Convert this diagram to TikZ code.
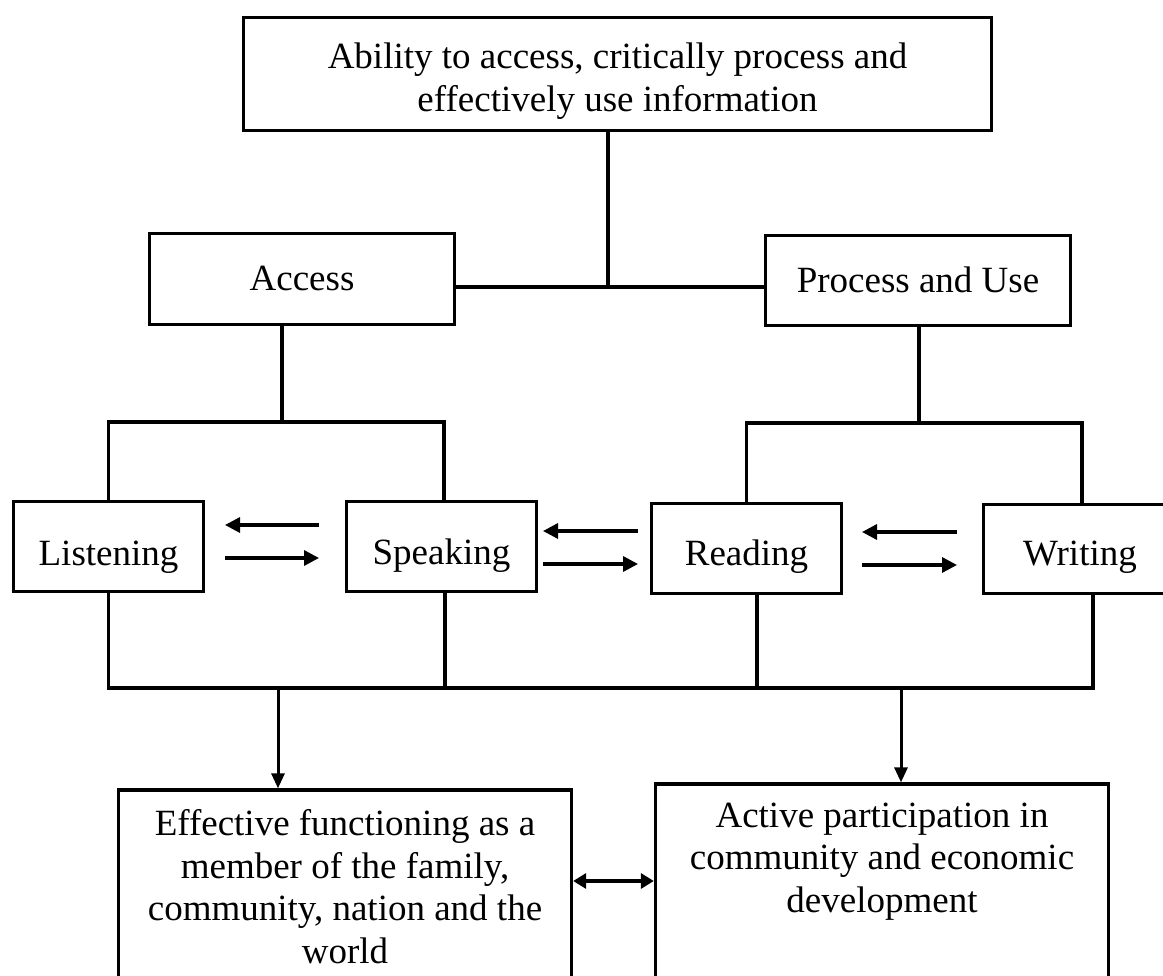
\documentclass[tikz,border=0pt]{standalone}
\usepackage{fontspec}
\setmainfont{Liberation Serif}
\usetikzlibrary{arrows.meta}
\begin{document}
\begin{tikzpicture}[x=1pt,y=-1pt,
  box/.style={draw, line width=3.3pt, inner sep=0pt},
  lbl/.style={inner sep=0pt, font=\fontsize{37}{42.5}\selectfont},
  conn/.style={line width=3.3pt},
  arr/.style={line width=3.3pt, -{Triangle[length=15pt,width=15pt]}},
  darr/.style={line width=3pt, -{Triangle[length=15pt,width=13pt]}},
  dbl/.style={line width=3.3pt, {Triangle[length=13pt,width=15pt]}-{Triangle[length=13pt,width=15pt]}}]
\useasboundingbox (0,0) rectangle (1163,976);
% boxes
\node[box, minimum width=748pt, minimum height=113pt] (top) at (617.5,74) {};
\node[box, minimum width=305pt, minimum height=91pt] (acc) at (302,279) {};
\node[box, minimum width=305pt, minimum height=90pt] (proc) at (918,280.5) {};
\node[box, minimum width=190pt, minimum height=90pt] (listen) at (108.5,546.5) {};
\node[box, minimum width=190pt, minimum height=90pt] (speak) at (441.5,546.5) {};
\node[box, minimum width=190pt, minimum height=90pt] (read) at (746.5,548.5) {};
\node[box, minimum width=193pt, minimum height=89pt] (write) at (1080,549) {};
\node[box, minimum width=453pt, minimum height=210pt] (eff) at (345,895) {};
\node[box, minimum width=453pt, minimum height=216pt] (act) at (882,892) {};
% labels
\node[lbl, anchor=north, align=center] (topT) at (617.5,42.7) {Ability to access, critically process and\\effectively use information};
\node[lbl, anchor=base] (accT) at (302,291) {Access};
\node[lbl, anchor=base] (procT) at (918,293) {Process and Use};
\node[lbl, anchor=base] (listenT) at (108.5,565) {Listening};
\node[lbl, anchor=base] (speakT) at (441.5,564) {Speaking};
\node[lbl, anchor=base] (readT) at (746.5,565) {Reading};
\node[lbl, anchor=base] (writeT) at (1080,565) {Writing};
\node[lbl, anchor=north, align=center] (effT) at (345,809.7) {Effective functioning as a\\member of the family,\\community, nation and the\\world};
\node[lbl, anchor=north, align=center] (actT) at (882,802.7) {Active participation in\\community and economic\\development};
% helper coordinates
\coordinate (hm) at (0,287);
\coordinate (lb) at (0,422);
\coordinate (rb) at (0,423);
\coordinate (bot) at (0,688);
\coordinate (dy) at (0,881);
\coordinate (tS) at ([xshift=-9.5pt]top.south);
\coordinate (aS) at ([xshift=-20pt]acc.south);
\coordinate (pS) at ([xshift=1pt]proc.south);
\coordinate (sN) at ([xshift=2.5pt]speak.north);
\coordinate (wN) at ([xshift=2pt]write.north);
\coordinate (sS) at ([xshift=3.5pt]speak.south);
\coordinate (rS) at ([xshift=10.5pt]read.south);
\coordinate (wS) at ([xshift=13pt]write.south);
\coordinate (dL) at (278,688);
\coordinate (dR) at (901,688);
% connectors
\draw[conn] (tS) -- (tS |- hm);
\draw[conn] (acc.east |- hm) -- (proc.west |- hm);
\draw[conn] (aS) -- (aS |- lb);
\draw[conn] (pS) -- (pS |- rb);
\draw[conn] (listen.north) -- (listen.north |- lb) -- (sN |- lb) -- (sN);
\draw[conn] (read.north) -- (read.north |- rb) -- (wN |- rb) -- (wN);
\draw[conn] (listen.south) -- (listen.south |- bot) -- (wS |- bot) -- (wS);
\draw[conn] (sS) -- (sS |- bot);
\draw[conn] (rS) -- (rS |- bot);
% horizontal arrow pairs
\coordinate (a1a) at (319,525); \coordinate (a1b) at (225,525);
\coordinate (a1c) at (225,558); \coordinate (a1d) at (319,558);
\coordinate (a2a) at (638,531); \coordinate (a2b) at (543,531);
\coordinate (a2c) at (543,564); \coordinate (a2d) at (638,564);
\coordinate (a3a) at (957,532); \coordinate (a3b) at (862,532);
\coordinate (a3c) at (862,565); \coordinate (a3d) at (957,565);
\draw[arr] (a1a) -- (a1b);
\draw[arr] (a1c) -- (a1d);
\draw[arr] (a2a) -- (a2b);
\draw[arr] (a2c) -- (a2d);
\draw[arr] (a3a) -- (a3b);
\draw[arr] (a3c) -- (a3d);
% down arrows
\draw[darr] (dL) -- (dL |- eff.north);
\draw[darr] (dR) -- (dR |- act.north);
% double arrow
\draw[dbl] (eff.east |- dy) -- (act.west |- dy);
\end{tikzpicture}
\end{document}
